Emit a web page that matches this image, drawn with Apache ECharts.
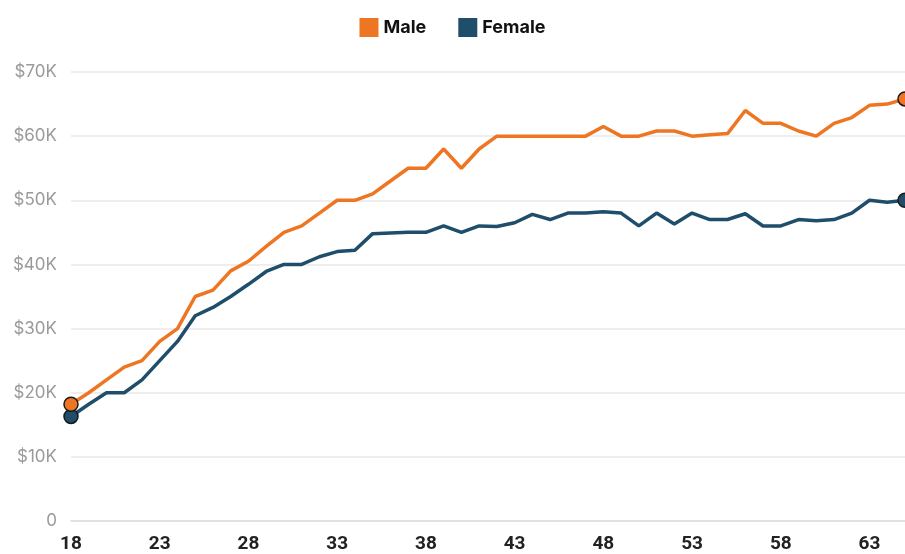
<!DOCTYPE html>
<html>
<head>
<meta charset="utf-8">
<script src="https://cdn.jsdelivr.net/npm/echarts@6/dist/echarts.min.js"></script>
<style>
  html, body { margin: 0; padding: 0; background: #fff; }
  #chart { width: 905px; height: 554px; }
</style>
</head>
<body>
<div id="chart"></div>
<script>
// ages 18..65, salary in $K
var ages = [];
for (var a = 18; a <= 65; a++) ages.push(String(a));

var male = [18.2, 20, 22, 24, 25, 28, 30, 35, 36, 39, 40.5, 42.8, 45, 46, 48, 50,
  50, 51, 53, 55, 55, 58, 55, 58, 60, 60, 60, 60, 60, 60, 61.5, 60,
  60, 60.8, 60.8, 60, 60.2, 60.4, 64, 62, 62, 60.8, 60, 62, 62.9, 64.8, 65, 65.8];

var female = [16.3, 18.2, 20, 20, 22, 25, 28, 32, 33.3, 35, 36.9, 38.9, 40, 40, 41.2, 42,
  42.2, 44.8, 44.9, 45, 45, 46, 45, 46, 45.9, 46.5, 47.8, 47, 48, 48, 48.2, 48,
  46, 48, 46.3, 48, 47, 47, 47.9, 46, 46, 47, 46.8, 47, 48, 50, 49.7, 50];

var maleColor = '#ee7623';
var femaleColor = '#1f4e6b';

// only first and last points get a dot
function withEnds(arr) {
  return arr.map(function (v, i) {
    if (i === 0 || i === arr.length - 1) {
      return { value: v, symbol: 'circle', symbolSize: 14 };
    }
    return { value: v, symbol: 'none' };
  });
}

var chart = echarts.init(document.getElementById('chart'));
var option = {
  animation: false,
  legend: {
    top: 13,
    left: 'center',
    icon: 'rect',
    itemWidth: 19,
    itemHeight: 19,
    itemGap: 32,
    itemStyle: { borderWidth: 0 },
    textStyle: { fontFamily: 'Inter', fontWeight: 'bold', fontSize: 18, color: '#111' },
    data: ['Male', 'Female']
  },
  grid: { left: 71, right: -3, top: 72, bottom: 32 },
  xAxis: {
    type: 'category',
    boundaryGap: false,
    data: ages,
    axisLine: { lineStyle: { color: '#dddddd', width: 1.5 } },
    axisTick: { show: false },
    axisLabel: {
      interval: 4,
      margin: 14,
      fontFamily: 'Roboto',
      fontWeight: 'bold',
      fontSize: 19,
      color: '#222'
    },
    splitLine: { show: false }
  },
  yAxis: {
    type: 'value',
    min: 0,
    max: 70,
    interval: 10,
    axisLine: { show: false },
    axisTick: { show: false },
    axisLabel: {
      margin: 14,
      fontFamily: 'Inter',
      fontSize: 17,
      color: '#9a9a9a',
      formatter: function (v) { return v === 0 ? '0' : '$' + v + 'K'; }
    },
    splitLine: { lineStyle: { color: '#e8e8e8', width: 1.5 } }
  },
  series: [
    {
      name: 'Male',
      type: 'line',
      data: withEnds(male),
      clip: false,
      showAllSymbol: true,
      color: maleColor,
      lineStyle: { width: 3.5, color: maleColor },
      itemStyle: { color: maleColor, borderColor: '#1a1a1a', borderWidth: 1.5 },
      z: 3
    },
    {
      name: 'Female',
      type: 'line',
      data: withEnds(female),
      clip: false,
      showAllSymbol: true,
      color: femaleColor,
      lineStyle: { width: 3.5, color: femaleColor },
      itemStyle: { color: femaleColor, borderColor: '#1a1a1a', borderWidth: 1.5 },
      z: 2
    }
  ]
};
chart.setOption(option);
</script>
</body>
</html>
